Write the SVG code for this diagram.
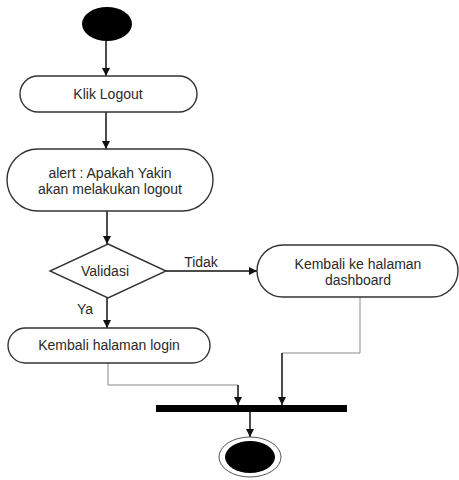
<svg xmlns="http://www.w3.org/2000/svg" width="459" height="480" viewBox="0 0 459 480">
  <style>
    .node { fill: #ffffff; stroke: #333333; stroke-width: 1.4; }
    .solid { fill: #000000; }
    .label { font-family: "Liberation Sans", Arial, sans-serif; font-size: 14px; fill: #2a2a2a; text-anchor: middle; }
    .flow { fill: none; stroke: #111111; stroke-width: 1.5; }
    .route { fill: none; stroke: #888888; stroke-width: 1; }
  </style>
  <defs>
    <marker id="arrow" viewBox="0 0 10 10" refX="10" refY="5" markerWidth="8" markerHeight="8" markerUnits="userSpaceOnUse" orient="auto">
      <path d="M0,0 L10,5 L0,10 Z" fill="#111111"/>
    </marker>
  </defs>
  <rect width="459" height="480" fill="#ffffff"/>

  <!-- connectors -->
  <g id="connectors">
    <line class="flow" x1="106" y1="41" x2="106" y2="76" marker-end="url(#arrow)"/>
    <line class="flow" x1="106" y1="112" x2="106" y2="149" marker-end="url(#arrow)"/>
    <line class="flow" x1="107" y1="211" x2="107" y2="244" marker-end="url(#arrow)"/>
    <line class="flow" x1="166" y1="271" x2="257" y2="271" marker-end="url(#arrow)"/>
    <line class="flow" x1="107" y1="298" x2="107" y2="328" marker-end="url(#arrow)"/>
    <polyline class="route" points="108,363 108,385 238,385"/>
    <line class="flow" x1="238" y1="385" x2="238" y2="405" marker-end="url(#arrow)"/>
    <polyline class="route" points="360,297 360,353 282,353"/>
    <line class="flow" x1="282" y1="353" x2="282" y2="405" marker-end="url(#arrow)"/>
    <line class="flow" x1="250" y1="412" x2="250" y2="437" marker-end="url(#arrow)"/>
    <text class="label" x="201" y="267">Tidak</text>
    <text class="label" x="85" y="314">Ya</text>
  </g>

  <!-- initial node -->
  <g id="start">
    <ellipse class="solid" cx="107" cy="24" rx="25" ry="17"/>
  </g>

  <g id="klik-logout">
    <rect class="node" x="20" y="76" width="177" height="36" rx="18" ry="18"/>
    <text class="label" x="108" y="99">Klik Logout</text>
  </g>

  <g id="alert">
    <rect class="node" x="7" y="149" width="206" height="62" rx="31" ry="31"/>
    <text class="label" x="110" y="178">alert : Apakah Yakin</text>
    <text class="label" x="110" y="194">akan melakukan logout</text>
  </g>

  <g id="validasi">
    <polygon class="node" points="108,244 166,271 108,298 50,271"/>
    <text class="label" x="105" y="276">Validasi</text>
  </g>

  <g id="dashboard">
    <rect class="node" x="257" y="245" width="201" height="52" rx="26" ry="26"/>
    <text class="label" x="358" y="269">Kembali ke halaman</text>
    <text class="label" x="358" y="285">dashboard</text>
  </g>

  <g id="login">
    <rect class="node" x="8" y="328" width="202" height="35" rx="17.5" ry="17.5"/>
    <text class="label" x="109" y="350">Kembali halaman login</text>
  </g>

  <g id="join">
    <rect class="solid" x="156" y="405" width="191" height="7"/>
  </g>

  <!-- final node -->
  <g id="end">
    <ellipse cx="250" cy="457" rx="31" ry="20" fill="#ffffff" stroke="#555555" stroke-width="1"/>
    <ellipse class="solid" cx="250" cy="457" rx="25" ry="16"/>
  </g>
</svg>
